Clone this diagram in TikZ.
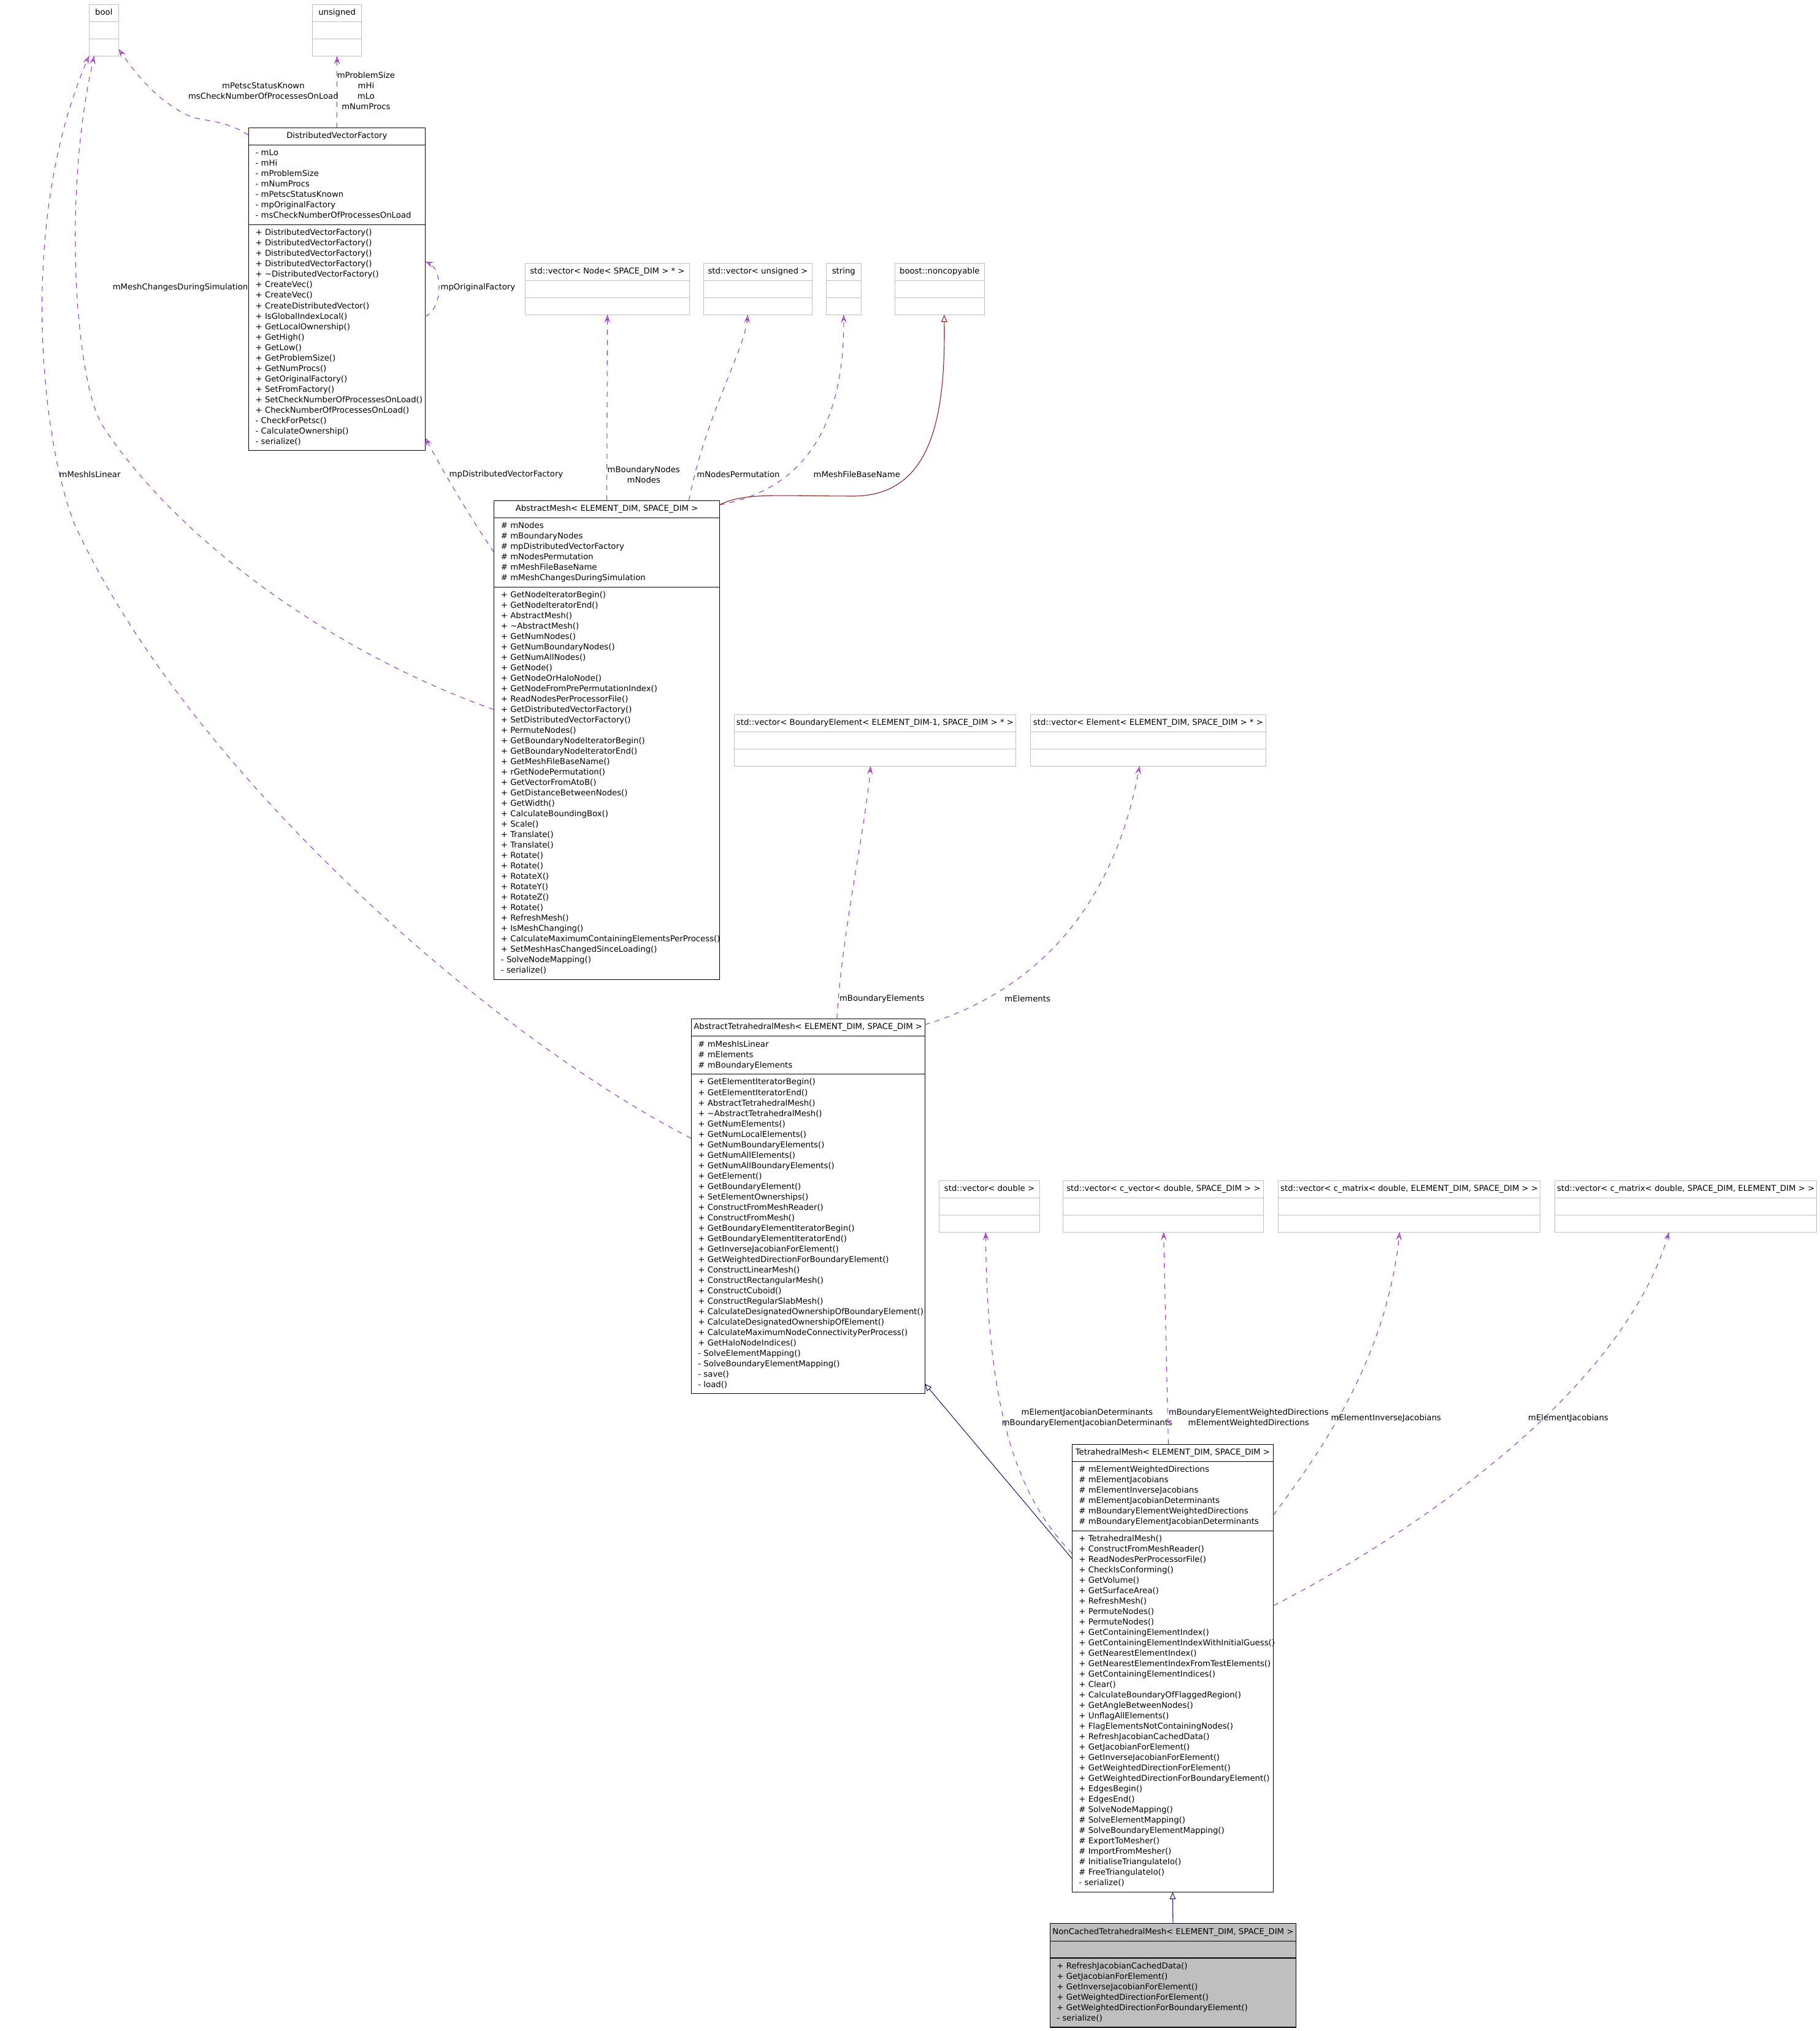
\documentclass[tikz,border=0pt]{standalone}
\usepackage{fontspec}
\setmainfont{DejaVu Sans}
\usepackage{tikz}
\usetikzlibrary{positioning, arrows.meta}
\definecolor{cUse}{HTML}{9A32CD}
\definecolor{cInherit}{HTML}{191970}
\definecolor{cBase}{HTML}{8B1A1A}
\definecolor{cExt}{HTML}{BFBFBF}
\definecolor{cFocus}{HTML}{BFBFBF}
\newcommand{\umlfont}{\fontsize{6.27}{8.05}\selectfont}
\newcommand{\members}[1]{\begin{tabular}{@{}l@{}}\strut#1\end{tabular}}

\begin{document}
\begin{tikzpicture}[
    x=1pt, y=1pt,
    font=\umlfont,
    hdr/.style={draw, line width=0.5pt, outer sep=0pt, anchor=north west, minimum width=#1,
      minimum height=13.3pt, inner xsep=0pt, inner ysep=0pt, text height=5.6pt, text depth=2.4pt},
    sec/.style={draw, line width=0.5pt, outer sep=0pt, text width=#1, inner xsep=5.3pt, inner ysep=2.6pt,
      align=left},
    ext/.style={draw=cExt},
    focus/.style={fill=cFocus},
    lbl/.style={align=center, inner sep=0pt},
    uses/.style={draw=cUse, line width=0.5pt, dash pattern=on 4pt off 4pt,
      -{Stealth[open, length=6.5pt, width=4.5pt, inset=3pt]}},
    isa/.style={draw=cInherit, line width=0.5pt, -{Triangle[open, length=5.5pt, width=4.6pt]}}
  ]
  \useasboundingbox (0,0) rectangle (1405,-1568);

  % external types
  \node[hdr=22.9pt, ext] (bool) at (68.7,-3.4) {bool};
  \node[sec=12.3pt, ext, below=0pt of bool] (bool-at) {\members{}};
  \node[sec=12.3pt, ext, below=0pt of bool-at] (bool-op) {\members{}};

  \node[hdr=37.8pt, ext] (uns) at (241.3,-3.4) {unsigned};
  \node[sec=27.2pt, ext, below=0pt of uns] (uns-at) {\members{}};
  \node[sec=27.2pt, ext, below=0pt of uns-at] (uns-op) {\members{}};

  \node[hdr=127.0pt, ext] (nodes) at (405.4,-203.2) {std::vector< Node< SPACE\_DIM > * >};
  \node[sec=116.4pt, ext, below=0pt of nodes] (nodes-at) {\members{}};
  \node[sec=116.4pt, ext, below=0pt of nodes-at] (nodes-op) {\members{}};

  \node[hdr=83.6pt, ext] (perm) at (543.3,-203.2) {std::vector< unsigned >};
  \node[sec=73.0pt, ext, below=0pt of perm] (perm-at) {\members{}};
  \node[sec=73.0pt, ext, below=0pt of perm-at] (perm-op) {\members{}};

  \node[hdr=27.1pt, ext] (str) at (637.8,-203.2) {string};
  \node[sec=16.5pt, ext, below=0pt of str] (str-at) {\members{}};
  \node[sec=16.5pt, ext, below=0pt of str-at] (str-op) {\members{}};

  \node[hdr=69.1pt, ext] (ncp) at (690.9,-203.2) {boost::noncopyable};
  \node[sec=58.5pt, ext, below=0pt of ncp] (ncp-at) {\members{}};
  \node[sec=58.5pt, ext, below=0pt of ncp-at] (ncp-op) {\members{}};

  \node[hdr=217.1pt, ext] (bel) at (567.0,-551.6) {std::vector< BoundaryElement< ELEMENT\_DIM-1, SPACE\_DIM > * >};
  \node[sec=206.5pt, ext, below=0pt of bel] (bel-at) {\members{}};
  \node[sec=206.5pt, ext, below=0pt of bel-at] (bel-op) {\members{}};

  \node[hdr=181.7pt, ext] (el) at (795.6,-551.6) {std::vector< Element< ELEMENT\_DIM, SPACE\_DIM > * >};
  \node[sec=171.1pt, ext, below=0pt of el] (el-at) {\members{}};
  \node[sec=171.1pt, ext, below=0pt of el-at] (el-op) {\members{}};

  \node[hdr=77.4pt, ext] (dbl) at (725.2,-911.4) {std::vector< double >};
  \node[sec=66.8pt, ext, below=0pt of dbl] (dbl-at) {\members{}};
  \node[sec=66.8pt, ext, below=0pt of dbl-at] (dbl-op) {\members{}};

  \node[hdr=154.8pt, ext] (cvec) at (820.9,-911.4) {std::vector< c\_vector< double, SPACE\_DIM > >};
  \node[sec=144.2pt, ext, below=0pt of cvec] (cvec-at) {\members{}};
  \node[sec=144.2pt, ext, below=0pt of cvec-at] (cvec-op) {\members{}};

  \node[hdr=202.0pt, ext] (cmat) at (987.0,-911.4) {std::vector< c\_matrix< double, ELEMENT\_DIM, SPACE\_DIM > >};
  \node[sec=191.4pt, ext, below=0pt of cmat] (cmat-at) {\members{}};
  \node[sec=191.4pt, ext, below=0pt of cmat-at] (cmat-op) {\members{}};

  \node[hdr=202.4pt, ext] (cmatT) at (1200.3,-911.4) {std::vector< c\_matrix< double, SPACE\_DIM, ELEMENT\_DIM > >};
  \node[sec=191.8pt, ext, below=0pt of cmatT] (cmatT-at) {\members{}};
  \node[sec=191.8pt, ext, below=0pt of cmatT-at] (cmatT-op) {\members{}};

  % documented classes
  \node[hdr=136.4pt] (dvf) at (191.9,-98.7) {DistributedVectorFactory};
  \node[sec=125.8pt, below=0pt of dvf] (dvf-at) {\members{- mLo\\- mHi\\- mProblemSize\\- mNumProcs\\
    - mPetscStatusKnown\\- mpOriginalFactory\\- msCheckNumberOfProcessesOnLoad}};
  \node[sec=125.8pt, below=0pt of dvf-at] (dvf-op) {\members{+ DistributedVectorFactory()\\
    + DistributedVectorFactory()\\+ DistributedVectorFactory()\\+ DistributedVectorFactory()\\
    + \textasciitilde{}DistributedVectorFactory()\\+ CreateVec()\\+ CreateVec()\\+ CreateDistributedVector()\\
    + IsGlobalIndexLocal()\\+ GetLocalOwnership()\\+ GetHigh()\\+ GetLow()\\+ GetProblemSize()\\
    + GetNumProcs()\\+ GetOriginalFactory()\\+ SetFromFactory()\\+ SetCheckNumberOfProcessesOnLoad()\\
    + CheckNumberOfProcessesOnLoad()\\- CheckForPetsc()\\- CalculateOwnership()\\- serialize()}};

  \node[hdr=174.2pt] (am) at (381.4,-386.4) {AbstractMesh< ELEMENT\_DIM, SPACE\_DIM >};
  \node[sec=163.6pt, below=0pt of am] (am-at) {\members{\# mNodes\\\# mBoundaryNodes\\
    \# mpDistributedVectorFactory\\\# mNodesPermutation\\\# mMeshFileBaseName\\\# mMeshChangesDuringSimulation}};
  \node[sec=163.6pt, below=0pt of am-at] (am-op) {\members{+ GetNodeIteratorBegin()\\+ GetNodeIteratorEnd()\\
    + AbstractMesh()\\+ \textasciitilde{}AbstractMesh()\\+ GetNumNodes()\\+ GetNumBoundaryNodes()\\
    + GetNumAllNodes()\\+ GetNode()\\+ GetNodeOrHaloNode()\\+ GetNodeFromPrePermutationIndex()\\
    + ReadNodesPerProcessorFile()\\+ GetDistributedVectorFactory()\\+ SetDistributedVectorFactory()\\
    + PermuteNodes()\\+ GetBoundaryNodeIteratorBegin()\\+ GetBoundaryNodeIteratorEnd()\\
    + GetMeshFileBaseName()\\+ rGetNodePermutation()\\+ GetVectorFromAtoB()\\+ GetDistanceBetweenNodes()\\
    + GetWidth()\\+ CalculateBoundingBox()\\+ Scale()\\+ Translate()\\+ Translate()\\+ Rotate()\\+ Rotate()\\
    + RotateX()\\+ RotateY()\\+ RotateZ()\\+ Rotate()\\+ RefreshMesh()\\+ IsMeshChanging()\\
    + CalculateMaximumContainingElementsPerProcess()\\+ SetMeshHasChangedSinceLoading()\\
    - SolveNodeMapping()\\- serialize()}};

  \node[hdr=180.4pt] (atm) at (533.6,-786.6) {AbstractTetrahedralMesh< ELEMENT\_DIM, SPACE\_DIM >};
  \node[sec=169.8pt, below=0pt of atm] (atm-at) {\members{\# mMeshIsLinear\\\# mElements\\\# mBoundaryElements}};
  \node[sec=169.8pt, below=0pt of atm-at] (atm-op) {\members{+ GetElementIteratorBegin()\\
    + GetElementIteratorEnd()\\+ AbstractTetrahedralMesh()\\+ \textasciitilde{}AbstractTetrahedralMesh()\\
    + GetNumElements()\\+ GetNumLocalElements()\\+ GetNumBoundaryElements()\\+ GetNumAllElements()\\
    + GetNumAllBoundaryElements()\\+ GetElement()\\+ GetBoundaryElement()\\+ SetElementOwnerships()\\
    + ConstructFromMeshReader()\\+ ConstructFromMesh()\\+ GetBoundaryElementIteratorBegin()\\
    + GetBoundaryElementIteratorEnd()\\+ GetInverseJacobianForElement()\\
    + GetWeightedDirectionForBoundaryElement()\\+ ConstructLinearMesh()\\+ ConstructRectangularMesh()\\
    + ConstructCuboid()\\+ ConstructRegularSlabMesh()\\+ CalculateDesignatedOwnershipOfBoundaryElement()\\
    + CalculateDesignatedOwnershipOfElement()\\+ CalculateMaximumNodeConnectivityPerProcess()\\
    + GetHaloNodeIndices()\\- SolveElementMapping()\\- SolveBoundaryElementMapping()\\- save()\\- load()}};

  \node[hdr=155.5pt] (tm) at (827.6,-1115.0) {TetrahedralMesh< ELEMENT\_DIM, SPACE\_DIM >};
  \node[sec=144.9pt, below=0pt of tm] (tm-at) {\members{\# mElementWeightedDirections\\\# mElementJacobians\\
    \# mElementInverseJacobians\\\# mElementJacobianDeterminants\\\# mBoundaryElementWeightedDirections\\
    \# mBoundaryElementJacobianDeterminants}};
  \node[sec=144.9pt, below=0pt of tm-at] (tm-op) {\members{+ TetrahedralMesh()\\+ ConstructFromMeshReader()\\
    + ReadNodesPerProcessorFile()\\+ CheckIsConforming()\\+ GetVolume()\\+ GetSurfaceArea()\\+ RefreshMesh()\\
    + PermuteNodes()\\+ PermuteNodes()\\+ GetContainingElementIndex()\\
    + GetContainingElementIndexWithInitialGuess()\\+ GetNearestElementIndex()\\
    + GetNearestElementIndexFromTestElements()\\+ GetContainingElementIndices()\\+ Clear()\\
    + CalculateBoundaryOfFlaggedRegion()\\+ GetAngleBetweenNodes()\\+ UnflagAllElements()\\
    + FlagElementsNotContainingNodes()\\+ RefreshJacobianCachedData()\\+ GetJacobianForElement()\\
    + GetInverseJacobianForElement()\\+ GetWeightedDirectionForElement()\\
    + GetWeightedDirectionForBoundaryElement()\\+ EdgesBegin()\\+ EdgesEnd()\\\# SolveNodeMapping()\\
    \# SolveElementMapping()\\\# SolveBoundaryElementMapping()\\\# ExportToMesher()\\\# ImportFromMesher()\\
    \# InitialiseTriangulateIo()\\\# FreeTriangulateIo()\\- serialize()}};

  \node[hdr=190.0pt, focus] (nc) at (810.6,-1485.1) {NonCachedTetrahedralMesh< ELEMENT\_DIM, SPACE\_DIM >};
  \node[sec=179.4pt, focus, below=0pt of nc] (nc-at) {\members{}};
  \node[sec=179.4pt, focus, below=0pt of nc-at] (nc-op) {\members{+ RefreshJacobianCachedData()\\
    + GetJacobianForElement()\\+ GetInverseJacobianForElement()\\+ GetWeightedDirectionForElement()\\
    + GetWeightedDirectionForBoundaryElement()\\- serialize()}};

  % members
  \draw[uses] (dvf.north) -- (uns-op.south);
  \draw[uses] ([yshift=-5.7pt]dvf.north west) .. controls (175,-93) and (160,-94) .. (147,-90)
    .. controls (125,-80) and (108,-62) .. ([yshift=-1.3pt]bool-op.east);
  \draw[uses] ([yshift=16.3pt]dvf-op.east) .. controls (342,-238) and (342,-208) .. ([yshift=58.8pt]dvf-op.east);
  \draw[uses] (am-at.west) .. controls (360,-395) and (340,-360) .. ([yshift=-77.3pt]dvf-op.east);
  \draw[uses] ([yshift=56.9pt]am-op.west) .. controls (260,-505) and (140,-420) .. (80,-330)
    .. controls (58,-297) and (48,-150) .. ([xshift=-7.4pt]bool-op.south);
  \draw[uses] ([yshift=73.8pt]atm-op.west) .. controls (380,-800) and (150,-600) .. (60,-410)
    .. controls (35,-357) and (10,-180) .. (bool-op.south west);
  \draw[uses] (am.north) -- (nodes-op.south);
  \draw[uses] ([xshift=150.4pt]am.north west) .. controls (545,-320) and (575,-270) .. ([xshift=-7.8pt]perm-op.south);
  \draw[uses] ([yshift=-3.3pt]am.north east) .. controls (620,-378) and (652,-330) .. (str-op.south);
  \draw[uses] ([xshift=112.5pt]atm.north west) .. controls (650,-720) and (668,-640) .. ([xshift=-3.4pt]bel-op.south);
  \draw[uses] ([yshift=2.2pt]atm.east) .. controls (800,-765) and (860,-700) .. ([xshift=-6.7pt]el-op.south);
  \draw[uses] ([yshift=122pt]tm-op.west) .. controls (790,-1160) and (762,-1100) .. ([xshift=-2.9pt]dbl-op.south);
  \draw[uses] ([xshift=-3.3pt]tm.north) -- (cvec-op.south);
  \draw[uses] ([yshift=-14.7pt]tm-at.east) .. controls (1020,-1120) and (1070,-1050) .. ([xshift=-7.4pt]cmat-op.south);
  \draw[uses] ([yshift=81.6pt]tm-op.east) .. controls (1080,-1190) and (1250,-1080) .. ([xshift=-12.9pt]cmatT-op.south);

  % inheritance
  \draw[isa, draw=cBase] ([yshift=-3.3pt]am.north east) .. controls (575,-380) and (600,-383) .. (660,-383)
    .. controls (720,-382) and (730,-320) .. ([xshift=3.5pt]ncp-op.south);
  \draw[isa] ([yshift=118pt]tm-op.west) -- ([yshift=-115.7pt]atm-op.east);
  \draw[isa] (nc.north) -- (tm-op.south);

  \node[lbl] (lProb) at (282.6,-70.1) {mProblemSize\\mHi\\mLo\\mNumProcs};
  \node[lbl] (lPetsc) at (203.3,-70.1) {mPetscStatusKnown\\msCheckNumberOfProcessesOnLoad};
  \node[lbl, anchor=east] (lChg) at (191.6,-222.1) {mMeshChangesDuringSimulation};
  \node[lbl] (lOrig) at (369.0,-222.1) {mpOriginalFactory};
  \node[lbl, anchor=west] (lDvf) at (346.7,-366.4) {mpDistributedVectorFactory};
  \node[lbl] (lLin) at (69.4,-366.1) {mMeshIsLinear};
  \node[lbl] (lNodes) at (497.0,-366.5) {mBoundaryNodes\\mNodes};
  \node[lbl] (lPerm) at (570.0,-366.2) {mNodesPermutation};
  \node[lbl] (lBase) at (661.5,-366.2) {mMeshFileBaseName};
  \node[lbl] (lBel) at (680.9,-771.0) {mBoundaryElements};
  \node[lbl] (lEl) at (793.3,-771.0) {mElements};
  \node[lbl] (lDet) at (839.3,-1094.5) {mElementJacobianDeterminants\\mBoundaryElementJacobianDeterminants};
  \node[lbl] (lDir) at (964.0,-1094.5) {mBoundaryElementWeightedDirections\\mElementWeightedDirections};
  \node[lbl] (lInv) at (1070.1,-1094.8) {mElementInverseJacobians};
  \node[lbl] (lJac) at (1210.8,-1094.8) {mElementJacobians};
\end{tikzpicture}
\end{document}
